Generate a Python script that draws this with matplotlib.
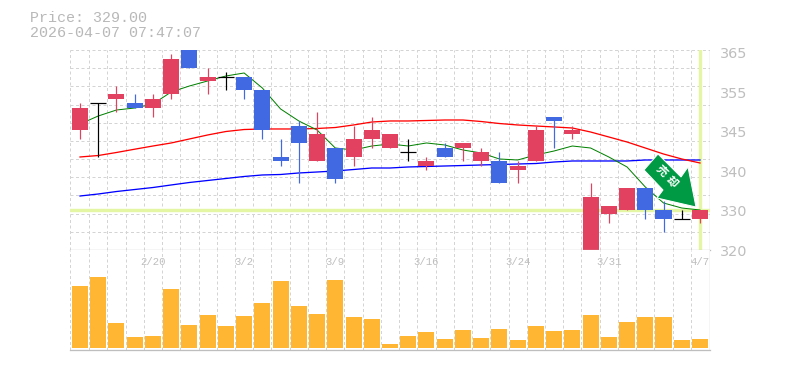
import numpy as np
import matplotlib
matplotlib.use("Agg")
import matplotlib.pyplot as plt
from matplotlib.patches import Polygon

# OHLC, oldest first. red = close above open, blue = below, black = doji
opens = [347, 353, 354, 353, 352, 355, 365, 358, 359, 359, 356, 341, 348, 340, 343, 341, 345, 343,
         342, 339, 343, 343, 340, 340, 338, 340, 350, 346, 320, 328, 329, 334, 329, 327, 327]
closes = [352, 353, 355, 352, 354, 363, 361, 359, 359, 356, 347, 340, 344, 346, 336, 345, 347, 346,
          342, 340, 341, 344, 342, 335, 339, 347, 349, 347, 332, 330, 334, 329, 327, 327, 329]
highs = [353, 353, 357, 355, 355, 364, 365, 361, 360, 359, 356, 345, 349, 351, 343, 348, 350, 346,
         345, 341, 344, 344, 343, 342, 340, 348, 350, 348, 335, 330, 334, 334, 331, 329, 329]
lows = [345, 341, 351, 352, 350, 354, 361, 355, 356, 354, 345, 339, 335, 340, 335, 339, 343, 343,
        340, 338, 341, 340, 339, 335, 335, 340, 343, 345, 320, 326, 329, 327, 324, 327, 326]

ma_short = [348.35, 350.15, 351.5, 351.95, 352.85, 355.55, 356.9, 358.03, 359.15, 359.83, 356.45, 351.73,
            349.03, 347, 342.95, 342.5, 343.4, 343.85, 343.4, 344.08, 343.63, 342.5, 341.83, 340.48,
            340.25, 341.38, 342.28, 343.4, 342.95, 340.93, 338.68, 334.18, 330.58, 329.45, 329]
ma_mid = [340.93, 341.26, 341.94, 342.68, 343.4, 344.08, 344.98, 345.88, 346.66, 347.11, 347.23, 347.23,
          347.23, 347.34, 347.56, 348.13, 348.8, 349.03, 349.03, 349.14, 349.25, 349.25, 348.91, 348.46,
          348.13, 347.9, 347.68, 347.45, 346.55, 345.43, 344.3, 342.95, 341.6, 340.48, 339.58]
ma_long = [332.15, 332.6, 333.16, 333.61, 334.06, 334.63, 335.19, 335.64, 336.09, 336.54, 336.88, 336.99,
           337.33, 337.55, 337.78, 338.11, 338.45, 338.45, 338.68, 338.79, 338.9, 339.01, 339.13, 339.24,
           339.35, 339.46, 339.8, 340.03, 340.03, 340.03, 340.03, 340.25, 340.25, 340.25, 340.25]

volumes = [62, 71, 25, 11, 12, 59, 23, 33, 22, 32, 45, 67, 42, 34, 68, 31, 29, 4,
           12, 16, 9, 18, 10, 19, 8, 22, 17, 18, 33, 11, 26, 31, 31, 8, 9]

date_idx = [4, 9, 14, 19, 24, 29, 34]
date_labels = ["2/20", "3/2", "3/9", "3/16", "3/24", "3/31", "4/7"]
price_labels = ["365", "355", "345", "340", "330", "320"]
last_price = 329

W, H = 785, 370
PX = 0.72  # one pixel in points at dpi 100
GREY = "#bebebe"
GRID = "#d4d4d4"
PALE = "#e4f6a4"
RED = "#e2415f"
BLUE = "#4169e1"
MONO = ["Liberation Mono", "DejaVu Sans Mono"]
DASH = (0, (3, 2.5))

fig = plt.figure(figsize=(W / 100, H / 100), dpi=100, facecolor="white")


def make_axes(left, top, right, bottom):
    return fig.add_axes([left / W, 1 - bottom / H, (right - left) / W, (bottom - top) / H])


ax = make_axes(70, 50, 710, 250)
vol = make_axes(70, 250, 710, 350)

# one candle step is 18.235 px and the first candle sits 10 px in
n = len(closes)
xs = np.arange(n)
xlim = (-10 / 18.235, -10 / 18.235 + 640 / 18.235)
for a in (ax, vol):
    a.set_xlim(xlim)
    a.set_xticks([])
    a.set_yticks([])
    for s in a.spines.values():
        s.set_visible(False)
    a.vlines(xs[:-1] + 0.5, 0, 1, transform=a.get_xaxis_transform(), color=GRID,
             lw=PX, linestyles=DASH, zorder=0)
    a.axvline(xlim[0] + 0.02, color=GRID, lw=PX, ls=DASH, zorder=0)
    a.axvline(xlim[1] - 0.02, color=GREY, lw=PX * 1.3, zorder=1)

ax.set_ylim(320, 365)
ax.hlines(np.linspace(320, 365, 12)[1:], *xlim, color=GRID, lw=PX, linestyles=DASH, zorder=0)
ax.axhline(320, color=GREY, lw=PX * 1.3, zorder=6, clip_on=False)

# last price cross
ax.axhline(last_price, color=PALE, lw=PX * 3.4, zorder=1)
ax.axvline(xs[-1], ymin=0.005, ymax=0.995, color=PALE, lw=PX * 3.4, zorder=1)

ax.plot(xs, ma_long, color="#0000ff", lw=PX * 1.3, zorder=2)
ax.plot(xs, ma_mid, color="#ff0000", lw=PX * 1.3, zorder=2)
ax.plot(xs, ma_short, color="#008000", lw=PX, zorder=2)

for i in range(n):
    o, c = opens[i], closes[i]
    col = RED if c > o else BLUE if c < o else "black"
    ax.vlines(i, lows[i], highs[i], color=col, lw=PX * 1.2, zorder=3)
    if c == o:
        ax.hlines(c, i - 0.44, i + 0.44, color=col, lw=PX * 1.2, zorder=3)
    else:
        ax.bar(i, abs(c - o), bottom=min(o, c), width=0.88, color=col, lw=0, zorder=3)

for i, lab in enumerate(price_labels):
    y = 364.1 - i * 8.9
    ax.text((720 - 70) / 640, y, lab, transform=ax.get_yaxis_transform(), color=GREY,
            fontsize=10.4, family="DejaVu Sans", va="center", ha="left", clip_on=False)

# sell-signal arrow, placed in figure pixels
arrow_px = [(658, 154), (644, 170), (663, 190), (657, 198), (696, 207), (688, 167), (681, 177)]
arrow_pts = [(x / W, 1 - y / H) for x, y in arrow_px]
fig.add_artist(Polygon(arrow_pts, closed=True, transform=fig.transFigure, facecolor="#009944",
                       edgecolor="white", lw=PX, joinstyle="miter", zorder=5))
for (cx, cy), ch in zip([(662, 171), (672, 182)], "売却"):
    fig.text(cx / W, 1 - cy / H, ch, color="white", fontsize=8, rotation=-45, fontweight="bold",
             family=["Noto Sans CJK JP", "DejaVu Sans"], ha="center", va="center", zorder=6)

vol.set_ylim(-2, 98)
vol.bar(xs, volumes, width=0.88, color="#ffb733", lw=0, zorder=2)
vol.axhline(-2 + 0.3, color=GREY, lw=PX * 1.3, zorder=3, clip_on=False)
for i, lab in zip(date_idx, date_labels):
    vol.text(i, 86, lab, color=GREY, fontsize=7.7, family=MONO, ha="center", va="center", zorder=4)

fig.text(30 / W, 1 - 18 / H, f"Price: {last_price:.2f}", color="#b8b8b8", fontsize=10.8, family=MONO, va="center")
fig.text(30 / W, 1 - 33 / H, "2026-04-07 07:47:07", color="#b8b8b8", fontsize=10.8, family=MONO, va="center")

fig.savefig("out.png", dpi=100, facecolor="white")
